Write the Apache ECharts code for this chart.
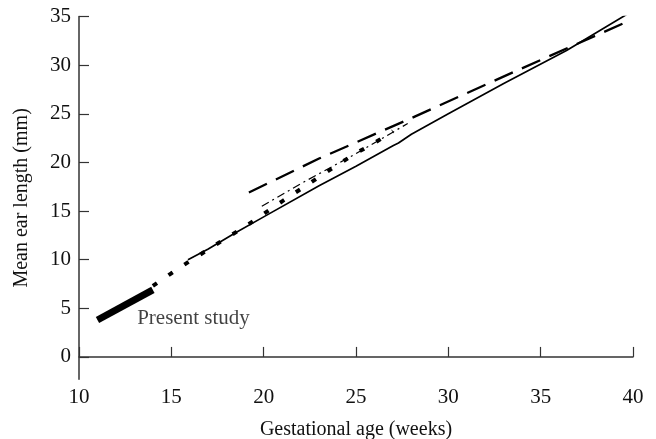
<!DOCTYPE html>
<html>
<head>
<meta charset="utf-8">
<script src="https://cdn.jsdelivr.net/npm/echarts@6/dist/echarts.min.js"></script>
<style>
html,body{margin:0;padding:0;background:#fff;}
#chart{width:656px;height:439px;}
</style>
</head>
<body>
<div id="chart"></div>
<script>
// Tick labels
var xTicks = [10, 15, 20, 25, 30, 35, 40];
var yTicks = [0, 5, 10, 15, 20, 25, 30, 35];

// Series: [gestational age (weeks), mean ear length (mm)]
var presentStudy = [[11, 3.8], [14, 6.9]];
var solidRef = [[15.9, 10.0], [17, 11.1], [18.5, 12.8], [20, 14.4], [23, 17.6], [25, 19.6], [27, 21.7], [27.3, 22.0], [28, 22.9], [30, 25.0], [33, 28.1], [36.4, 31.5], [40, 35.6]];
var dashedRef = [[19.2, 16.9], [23, 20.4], [27.7, 24.3], [33.9, 29.6], [39.6, 34.4]];
var dashDotRef = [[19.9, 15.5], [22, 17.8], [25, 20.9], [27.8, 24.0]];
var dottedRef = [[14, 7.3], [15, 8.6], [16, 9.85], [17, 11.05], [18, 12.25], [19, 13.4], [20, 14.7], [21, 16.0], [22, 17.25], [23, 18.5], [24, 19.75], [25, 20.95], [26, 22.0], [27, 23.2]];
var annotation = [[13.15, 4.0, 'Present study']];

var FONT = '"Liberation Serif", "DejaVu Serif", serif';
var chart = echarts.init(document.getElementById('chart'), null, {renderer: 'canvas'});

function lineSeries(data, width, type, cap) {
  return {
    type: 'line', data: data, symbol: 'none', animation: false, silent: true,
    lineStyle: {color: '#000', width: width, type: type, cap: cap || 'butt'}
  };
}

chart.setOption({
  animation: false,
  backgroundColor: '#fff',
  grid: {left: 79, right: 23, top: 16.5, bottom: 59.7, containLabel: false, outerBoundsMode: 'none'},
  xAxis: {
    type: 'value', min: 10, max: 40, interval: 5,
    name: 'Gestational age (weeks)', nameLocation: 'middle', nameGap: 40,
    nameTextStyle: {fontFamily: FONT, fontSize: 20, color: '#111'},
    axisLine: {show: true, lineStyle: {color: '#333', width: 1.5}},
    axisTick: {show: true, inside: true, length: 10, lineStyle: {color: '#333', width: 1.2}},
    axisLabel: {fontFamily: FONT, fontSize: 21, color: '#111', margin: 8,
      formatter: function (v) { return xTicks.indexOf(v) >= 0 ? String(v) : ''; }},
    splitLine: {show: false}
  },
  yAxis: {
    type: 'value', min: -2.3, max: 35,
    name: 'Mean ear length (mm)', nameLocation: 'middle', nameGap: 47, nameRotate: 90,
    nameTextStyle: {fontFamily: FONT, fontSize: 20, color: '#111'},
    axisLine: {show: true, lineStyle: {color: '#333', width: 1.5}},
    axisTick: {show: true, inside: true, length: 10, customValues: yTicks, lineStyle: {color: '#333', width: 1.2}},
    axisLabel: {fontFamily: FONT, fontSize: 21, color: '#111', margin: 8, customValues: yTicks},
    splitLine: {show: false}
  },
  series: [
    lineSeries(solidRef, 1.7, 'solid'),
    lineSeries(dashedRef, 2.3, [20, 10]),
    lineSeries(dashDotRef, 1.2, [8, 4, 2, 4]),
    lineSeries(dottedRef, 4, [5, 14]),
    lineSeries(presentStudy, 7, 'solid'),
    {
      type: 'scatter', data: annotation, symbolSize: 0, silent: true, animation: false,
      label: {show: true, position: 'right', distance: 0, formatter: function (p) { return p.data[2]; },
        fontFamily: FONT, fontSize: 21, color: '#111'}
    }
  ]
});
</script>
</body>
</html>
